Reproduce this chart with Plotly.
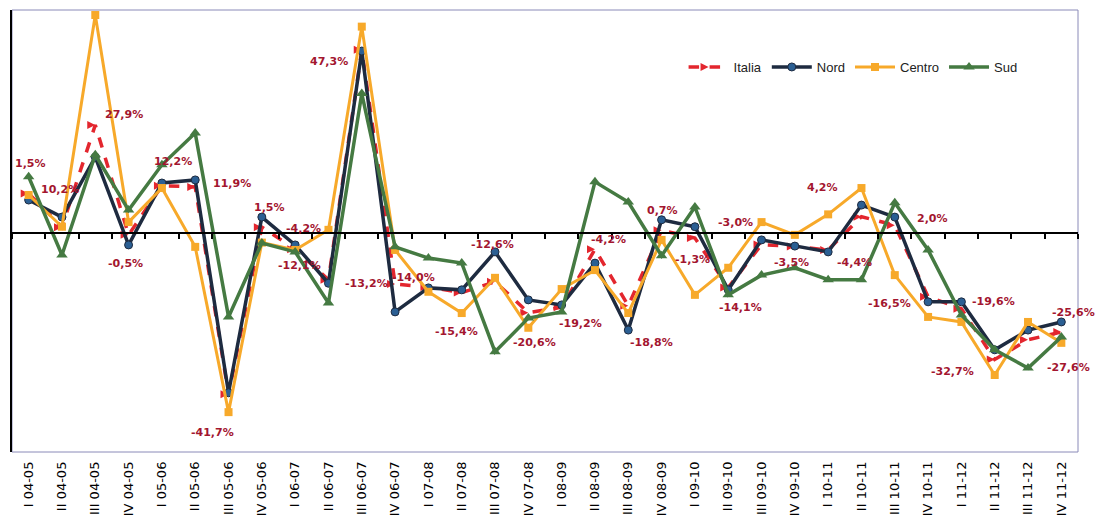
import plotly.graph_objects as go

categories = [
    "I 04-05", "II 04-05", "III 04-05", "IV 04-05",
    "I 05-06", "II 05-06", "III 05-06", "IV 05-06",
    "I 06-07", "II 06-07", "III 06-07", "IV 06-07",
    "I 07-08", "II 07-08", "III 07-08", "IV 07-08",
    "I 08-09", "II 08-09", "III 08-09", "IV 08-09",
    "I 09-10", "II 09-10", "III 09-10", "IV 09-10",
    "I 10-11", "II 10-11", "III 10-11", "IV 10-11",
    "I 11-12", "II 11-12", "III 11-12", "IV 11-12",
]

italia = [10.2, 1.5, 27.9, -0.5, 12.2, 11.9, -41.7, 1.5, -4.2, -12.1, 47.3, -13.2,
          -14.0, -15.4, -12.6, -20.6, -19.2, -4.2, -18.8, 0.7, -1.3, -14.1, -3.0, -3.5,
          -4.4, 4.2, 2.0, -16.5, -19.6, -32.7, -27.6, -25.6]
nord = [8.5, 4.1, 19.6, -3.1, 12.9, 13.7, -41.3, 4.1, -3.1, -13.0, 47.0, -20.4,
        -14.2, -14.7, -4.9, -17.3, -18.6, -7.8, -25.1, 3.4, 1.6, -14.7, -1.8, -3.4,
        -4.9, 7.2, 4.1, -17.8, -17.8, -30.2, -25.1, -23.0]
centro = [9.8, 1.6, 56.3, 2.8, 11.6, -3.6, -46.3, -2.5, -4.4, 0.8, 53.3, -4.4,
          -15.2, -20.7, -11.6, -24.5, -14.5, -9.6, -20.7, -1.8, -16.0, -9.0, 2.8, -0.5,
          4.8, 11.6, -10.9, -21.7, -23.0, -36.7, -23.0, -28.4]
sud = [14.5, -5.7, 20.2, 5.9, 17.6, 25.8, -21.7, -2.6, -4.9, -18.1, 36.0, -3.6,
       -6.5, -7.8, -30.7, -22.0, -20.4, 13.2, 8.0, -5.9, 6.7, -16.0, -10.9, -9.0,
       -12.1, -12.1, 7.8, -4.4, -21.2, -30.2, -34.9, -26.9]

# label pixel offsets (dx, dy; dy positive = down) for the Italia value labels
label_offsets = [(31, -4), (-31, -64), (29, -10), (-3, 29), (11, -24), (37, -3), (-16, 38),
                 (8, -20), (8, -21), (-29, -14), (-33, 12), (-29, -1), (-15, -10), (-5, 39),
                 (-3, -37), (6, 30), (19, 16), (14, -10), (23, 37), (1, -20), (-2, 22),
                 (12, 20), (-26, -22), (-3, 16), (26, 13), (-39, -29), (38, -7), (-39, 7),
                 (32, -7), (-42, 12), (40, 28), (12, -20)]

Y_MIN, Y_MAX = -56.6, 57.6

fig = go.Figure()

fig.add_trace(go.Scatter(
    x=[-0.5, 31.5], y=[0, 0], xaxis="x2", yaxis="y", mode="lines",
    line=dict(color="black", width=2), showlegend=False, hoverinfo="skip"))

fig.add_trace(go.Scatter(
    x=categories, y=italia, name="Italia", mode="lines+markers",
    line=dict(color="#E3262E", width=3.5, dash="dash"),
    marker=dict(symbol="arrow-right", size=8, color="#E3262E")))
fig.add_trace(go.Scatter(
    x=categories, y=nord, name="Nord", mode="lines+markers",
    line=dict(color="#1E2B40", width=3.5),
    marker=dict(symbol="circle", size=8, color="#2B5F93", line=dict(color="#1E2B40", width=1))))
fig.add_trace(go.Scatter(
    x=categories, y=centro, name="Centro", mode="lines+markers",
    line=dict(color="#F7A92A", width=3),
    marker=dict(symbol="square", size=8, color="#F7A92A")))
fig.add_trace(go.Scatter(
    x=categories, y=sud, name="Sud", mode="lines+markers",
    line=dict(color="#457A42", width=3.5),
    marker=dict(symbol="triangle-up", size=10, color="#457A42")))

def fmt(v):
    return ("%.1f" % v).replace(".", ",") + "%"

annotations = []
for cat, v, (dx, dy) in zip(categories, italia, label_offsets):
    annotations.append(dict(
        x=cat, y=v, xref="x", yref="y", text=fmt(v), showarrow=False,
        xshift=dx, yshift=-dy,
        font=dict(family="DejaVu Sans", size=11, color="#A3162F", weight="bold")))

zero_pos = (0 - Y_MIN) / (Y_MAX - Y_MIN)

fig.update_layout(
    width=1101, height=516,
    margin=dict(l=4, r=31, t=2, b=72),
    paper_bgcolor="white", plot_bgcolor="white",
    showlegend=True,
    legend=dict(orientation="h", x=0.630, y=0.871, xanchor="left", yanchor="middle",
                font=dict(family="Liberation Sans", size=13, color="#222222"),
                bgcolor="rgba(0,0,0,0)", itemwidth=40),
    xaxis=dict(type="category", categoryarray=categories, range=[-0.5, 31.5],
               tickangle=-90, ticks="", showgrid=False, showline=False, zeroline=False,
               tickfont=dict(family="DejaVu Sans", size=13, color="black"),
               ticklabelstandoff=6),
    xaxis2=dict(overlaying="x", anchor="free", position=zero_pos, side="bottom",
                range=[-0.5, 31.5], tickmode="array",
                tickvals=[k - 0.5 for k in range(len(categories) + 1)],
                ticks="outside", ticklen=5, tickwidth=2, tickcolor="black",
                showticklabels=False, showgrid=False, showline=False, zeroline=False),
    yaxis=dict(range=[Y_MIN, Y_MAX], showticklabels=False, showgrid=False, zeroline=False,
               showline=True, linecolor="black", linewidth=2, ticks=""),
    annotations=annotations,
    shapes=[dict(type="rect", xref="paper", yref="paper", x0=0, x1=1, y0=0, y1=1,
                 line=dict(color="#8A8AB8", width=1), layer="below")],
)

fig.write_html("out.html")
